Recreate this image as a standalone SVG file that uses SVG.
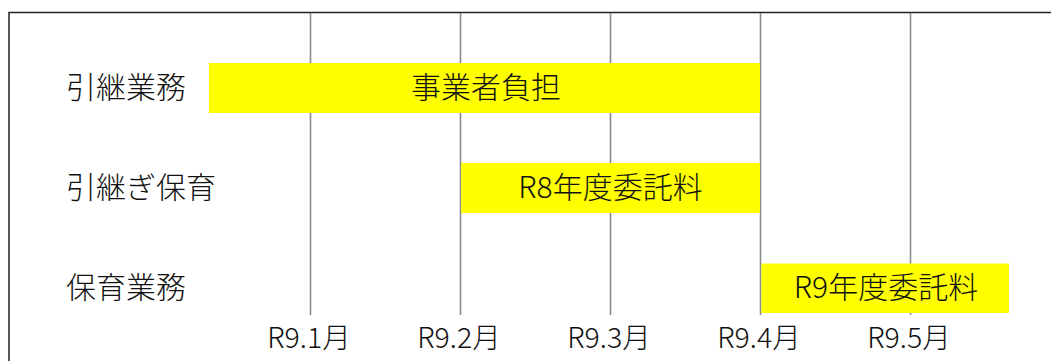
<svg xmlns="http://www.w3.org/2000/svg" width="1051" height="361" viewBox="0 0 1051 361">
<style>
.t{font-family:"Noto Sans CJK JP","Noto Sans",sans-serif;font-size:30px;font-weight:300;fill:#111}
.a{font-size:28.5px}
.m{text-anchor:middle}
.g{stroke:#8a8a8a;stroke-width:1.6}
.bar{fill:#ffff00}
</style>
<rect x="0" y="0" width="1051" height="361" fill="#ffffff"/>
<rect x="9" y="12.5" width="1100" height="400" fill="none" stroke="#222" stroke-width="1.5"/>
<g id="gridlines">
<line class="g" x1="310.5" y1="13" x2="310.5" y2="315"/>
<line class="g" x1="460.5" y1="13" x2="460.5" y2="315"/>
<line class="g" x1="610.5" y1="13" x2="610.5" y2="315"/>
<line class="g" x1="760.5" y1="13" x2="760.5" y2="315"/>
<line class="g" x1="910.5" y1="13" x2="910.5" y2="315"/>
</g>
<g id="row-labels">
<text class="t" x="66" y="98">引継業務</text>
<text class="t" x="66" y="198">引継ぎ保育</text>
<text class="t" x="66" y="298">保育業務</text>
</g>
<g id="bar1">
<rect class="bar" x="209" y="63" width="551" height="50"/>
<text class="t m" x="486" y="98">事業者負担</text>
</g>
<g id="bar2">
<rect class="bar" x="461" y="163" width="299" height="50"/>
<text class="t m" x="610.5" y="198">R8年度委託料</text>
</g>
<g id="bar3">
<rect class="bar" x="761.5" y="263.5" width="247.5" height="49.5"/>
<text class="t m" x="886" y="298">R9年度委託料</text>
</g>
<g id="axis-labels">
<text class="t a m" x="309" y="348">R9.1月</text>
<text class="t a m" x="459" y="348">R9.2月</text>
<text class="t a m" x="609" y="348">R9.3月</text>
<text class="t a m" x="759" y="348">R9.4月</text>
<text class="t a m" x="909" y="348">R9.5月</text>
</g>
</svg>
